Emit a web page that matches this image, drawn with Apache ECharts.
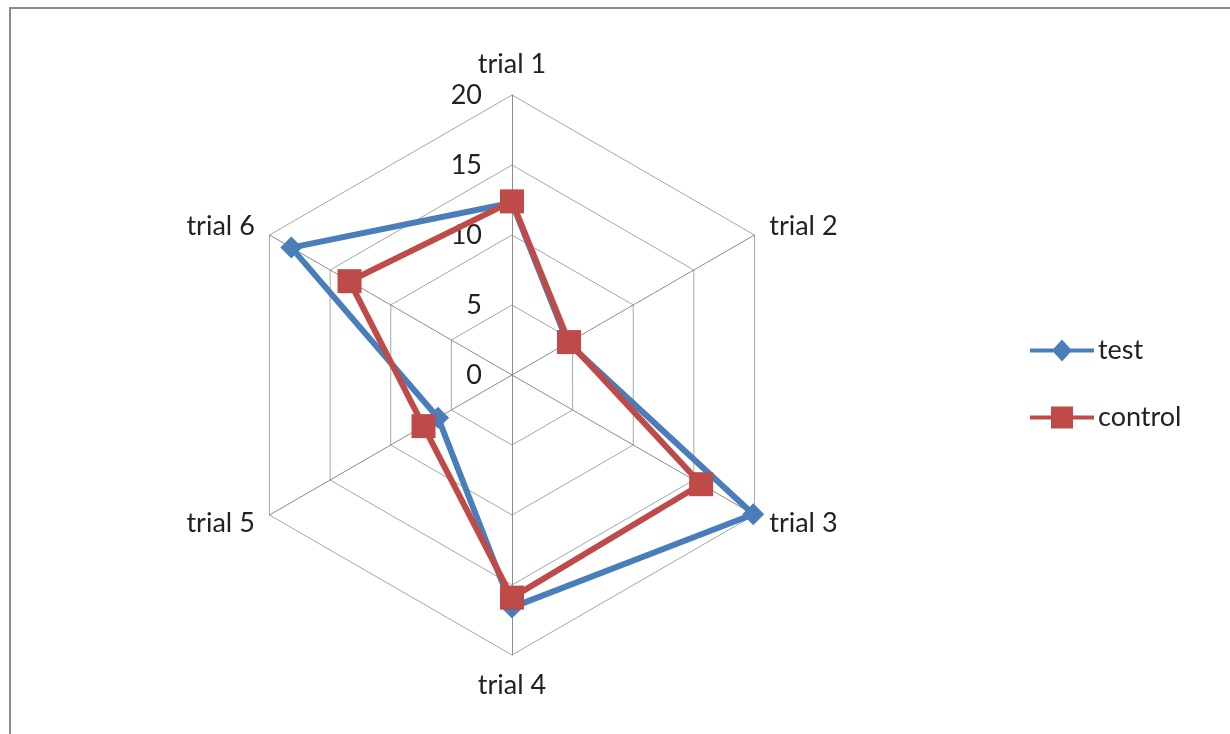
<!DOCTYPE html>
<html>
<head>
<meta charset="utf-8">
<script src="https://cdn.jsdelivr.net/npm/echarts@6/dist/echarts.min.js"></script>
<style>
  html, body { margin: 0; padding: 0; background: #fff; }
  #chart { width: 1230px; height: 734px; }
</style>
</head>
<body>
<div id="chart"></div>
<script>
var categories = ['trial 1', 'trial 2', 'trial 3', 'trial 4', 'trial 5', 'trial 6'];
var testValues = [12.3, 4.6, 19.9, 16.6, 6.1, 18.2];
var controlValues = [12.4, 4.7, 15.6, 15.9, 7.3, 13.4];
var axisMax = 20;

var chart = echarts.init(document.getElementById('chart'));

var font = 'Lato, "Open Sans", sans-serif';

// radar runs counter-clockwise, so reverse everything after the first spoke
var order = [0].concat(categories.slice(1).map(function (c, i) { return categories.length - 1 - i; }));
function reorder(arr) {
  return order.map(function (i) { return arr[i]; });
}

var indicators = reorder(categories).map(function (name, i) {
  var ind = { name: name, min: 0, max: axisMax };
  if (i === 0) {
    ind.axisLabel = { show: true }; // only first spoke shows tick labels
  }
  return ind;
});

var testIcon = 'path://M0,9L64,9L64,13L0,13Z M32,0L42,11L32,22L22,11Z';
var controlIcon = 'path://M0,9L64,9L64,13L0,13Z M21,0L43,0L43,22L21,22Z';

chart.setOption({
  backgroundColor: '#fff',
  animation: false,
  color: ['#4a7ebb', '#be4b48'],
  graphic: [{
    type: 'rect',
    shape: { x: 10, y: 8, width: 1230, height: 740 },
    style: { fill: 'none', stroke: '#8c8c8c', lineWidth: 2 },
    silent: true
  }],
  legend: {
    orient: 'vertical',
    left: 1025,
    top: 332,
    itemWidth: 70,
    itemHeight: 22,
    itemGap: 40,
    textStyle: { fontFamily: font, fontSize: 27, color: '#222', padding: [0, 0, 0, -4] },
    data: [
      { name: 'test', icon: testIcon },
      { name: 'control', icon: controlIcon }
    ]
  },
  radar: {
    center: [512, 375],
    radius: 280,
    startAngle: 90,
    shape: 'polygon',
    splitNumber: 4,
    nameGap: 17,
    axisName: { color: '#222', fontFamily: font, fontSize: 27 },
    axisLine: { lineStyle: { color: '#8c8c8c', width: 1 } },
    splitLine: { lineStyle: { color: '#a6a6a6', width: 1 } },
    splitArea: { show: false },
    axisTick: { show: false },
    axisLabel: {
      show: false,
      color: '#222',
      fontFamily: font,
      fontSize: 27,
      margin: 30
    },
    indicator: indicators
  },
  series: [{
    type: 'radar',
    z: 3,
    data: [{
      name: 'test',
      value: reorder(testValues),
      symbol: 'diamond',
      symbolSize: 22,
      lineStyle: { width: 6, color: '#4a7ebb' },
      itemStyle: { color: '#4a7ebb' }
    }]
  }, {
    type: 'radar',
    z: 4,
    data: [{
      name: 'control',
      value: reorder(controlValues),
      symbol: 'rect',
      symbolSize: 24,
      lineStyle: { width: 6, color: '#be4b48' },
      itemStyle: { color: '#be4b48' }
    }]
  }]
});
</script>
</body>
</html>
